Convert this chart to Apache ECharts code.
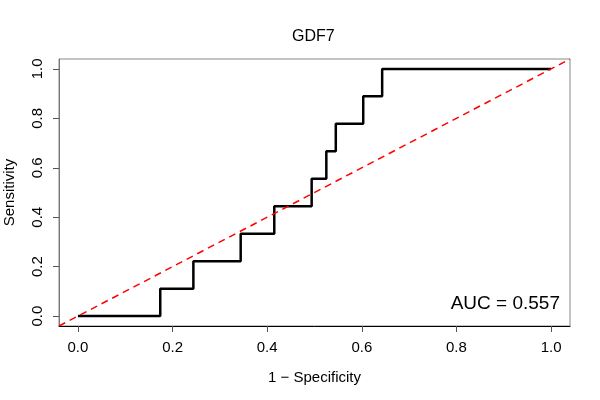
<!DOCTYPE html>
<html lang="en">
<head>
    <meta charset="UTF-8">
    <title>GDF7 ROC</title>
    <style>
        html, body {
            margin: 0;
            padding: 0;
            width: 100%;
            height: 100%;
            background: #fff;
            overflow: hidden;
        }
        #roc {
            width: 600px;
            height: 400px;
        }
    </style>
</head>
<body>
    <div id="roc"></div>

<script src="https://cdn.jsdelivr.net/npm/echarts@6/dist/echarts.min.js"></script>
<script type="text/javascript">
    // ROC 曲线的拐点 (1 - specificity, sensitivity)
    var fpr = [0, 0.174, 0.244, 0.344, 0.415, 0.494, 0.525, 0.545, 0.603, 0.643, 1.0];
    var tpr = [0, 0.111, 0.222, 0.333, 0.444, 0.556, 0.667, 0.778, 0.889, 1.0, 1.0];
    var tickValues = [0, 0.2, 0.4, 0.6, 0.8, 1.0];
    var refLine = [-0.04, 1.04];
    var aucText = 'AUC = 0.557';

    var font = '"Liberation Sans", Arial, sans-serif';

    function rocOption() {
        var curve = fpr.map(function (x, i) {
            return [x, tpr[i]];
        });
        var diag = refLine.map(function (v) {
            return [v, v];
        });

        var axisCommon = {
            type: 'value',
            min: -0.04,
            max: 1.04,
            nameLocation: 'middle',
            nameTextStyle: {
                fontFamily: font,
                fontSize: 15,
                color: '#000'
            },
            splitLine: { show: false },
            axisTick: {
                show: true,
                length: 6,
                customValues: tickValues,
                lineStyle: { color: '#555' }
            },
            axisLabel: {
                customValues: tickValues,
                fontFamily: font,
                fontSize: 15,
                color: '#000',
                formatter: function (v) {
                    return v.toFixed(1);
                }
            }
        };

        var xAxis = Object.assign({}, axisCommon, {
            name: '1 \u2212 Specificity',
            nameGap: 44,
            axisLine: { show: true, onZero: false, lineStyle: { color: '#000', width: 1 } }
        });
        xAxis.axisLabel = Object.assign({}, axisCommon.axisLabel, { margin: 14 });

        var yAxis = Object.assign({}, axisCommon, {
            name: 'Sensitivity',
            nameGap: 42,
            axisLine: { show: true, onZero: false, lineStyle: { color: '#777', width: 1 } }
        });
        yAxis.axisLabel = Object.assign({}, axisCommon.axisLabel, { rotate: 90, margin: 14 });

        return {
            animation: false,
            backgroundColor: '#fff',
            title: {
                text: 'GDF7',
                left: 287,
                top: 24,
                textStyle: {
                    fontFamily: font,
                    fontSize: 16,
                    fontWeight: 'normal',
                    color: '#000'
                }
            },
            grid: {
                left: 59,
                right: 30,
                top: 59,
                bottom: 74,
                outerBoundsMode: 'none',
                containLabel: false,
                show: true,
                borderColor: '#888',
                borderWidth: 1
            },
            xAxis: xAxis,
            yAxis: yAxis,
            graphic: [{
                type: 'text',
                right: 40,
                top: 294,
                style: {
                    text: aucText,
                    fontFamily: font,
                    fontSize: 19,
                    fill: '#000'
                }
            }],
            series: [{
                name: 'reference',
                type: 'line',
                data: diag,
                symbol: 'none',
                clip: true,
                lineStyle: {
                    color: '#ff0000',
                    width: 1.5,
                    type: [7, 5]
                },
                z: 3
            }, {
                name: 'ROC',
                type: 'line',
                step: 'end',
                data: curve,
                symbol: 'none',
                lineStyle: {
                    color: '#000',
                    width: 2.5
                },
                z: 2
            }]
        };
    }

    var chart = echarts.init(document.getElementById('roc'));
    chart.setOption(rocOption());
</script>
</body>
</html>
